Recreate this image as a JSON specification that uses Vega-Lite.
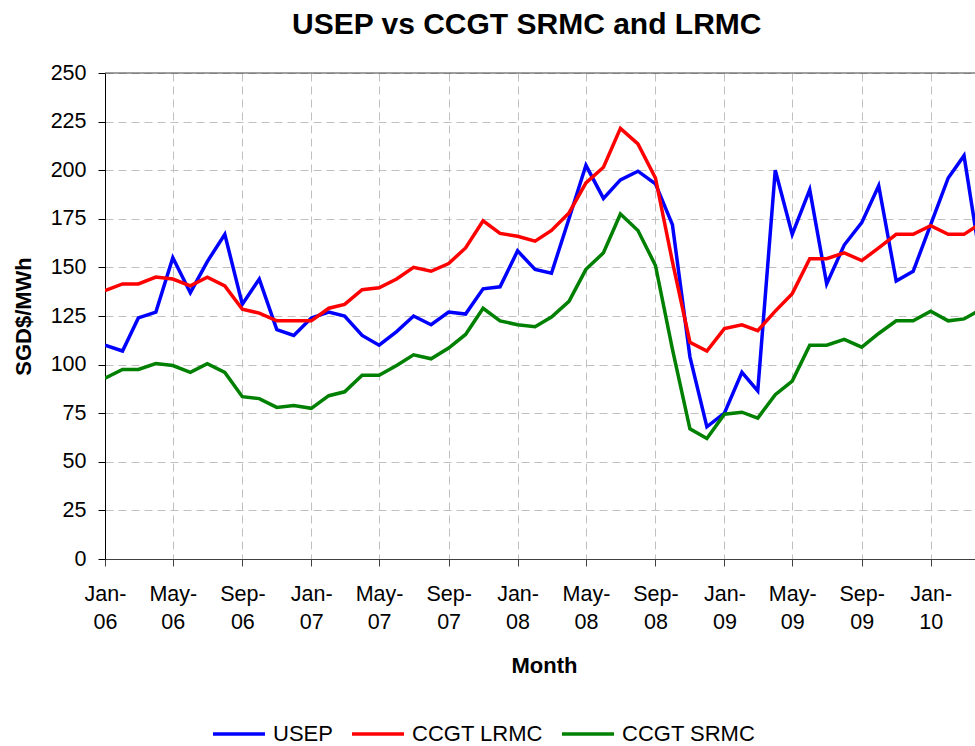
{
  "$schema": "https://vega.github.io/schema/vega-lite/v6.json",
  "width": 870,
  "height": 486,
  "autosize": {"type": "none"},
  "padding": {"left": 105, "top": 73, "right": 0, "bottom": 187},
  "background": "white",
  "config": {"view": {"stroke": null}, "font": "Liberation Sans"},
  "title": {
    "text": "USEP vs CCGT SRMC and LRMC",
    "fontSize": 30,
    "fontWeight": "bold",
    "font": "Liberation Sans",
    "color": "black",
    "anchor": "middle",
    "frame": "bounds",
    "dx": 33,
    "offset": 22
  },
  "layer": [
    {
      "data": {
        "values": [
          {"month": "2006-01-01", "series": "USEP", "value": 110},
          {"month": "2006-02-01", "series": "USEP", "value": 107},
          {"month": "2006-03-01", "series": "USEP", "value": 124},
          {"month": "2006-04-01", "series": "USEP", "value": 127},
          {"month": "2006-05-01", "series": "USEP", "value": 155},
          {"month": "2006-06-01", "series": "USEP", "value": 137},
          {"month": "2006-07-01", "series": "USEP", "value": 153},
          {"month": "2006-08-01", "series": "USEP", "value": 167},
          {"month": "2006-09-01", "series": "USEP", "value": 131},
          {"month": "2006-10-01", "series": "USEP", "value": 144},
          {"month": "2006-11-01", "series": "USEP", "value": 118},
          {"month": "2006-12-01", "series": "USEP", "value": 115},
          {"month": "2007-01-01", "series": "USEP", "value": 124},
          {"month": "2007-02-01", "series": "USEP", "value": 127},
          {"month": "2007-03-01", "series": "USEP", "value": 125},
          {"month": "2007-04-01", "series": "USEP", "value": 115},
          {"month": "2007-05-01", "series": "USEP", "value": 110},
          {"month": "2007-06-01", "series": "USEP", "value": 117},
          {"month": "2007-07-01", "series": "USEP", "value": 125},
          {"month": "2007-08-01", "series": "USEP", "value": 120.5},
          {"month": "2007-09-01", "series": "USEP", "value": 127},
          {"month": "2007-10-01", "series": "USEP", "value": 126},
          {"month": "2007-11-01", "series": "USEP", "value": 139},
          {"month": "2007-12-01", "series": "USEP", "value": 140},
          {"month": "2008-01-01", "series": "USEP", "value": 158.5},
          {"month": "2008-02-01", "series": "USEP", "value": 149},
          {"month": "2008-03-01", "series": "USEP", "value": 147},
          {"month": "2008-04-01", "series": "USEP", "value": 175},
          {"month": "2008-05-01", "series": "USEP", "value": 202.5},
          {"month": "2008-06-01", "series": "USEP", "value": 185.5},
          {"month": "2008-07-01", "series": "USEP", "value": 195},
          {"month": "2008-08-01", "series": "USEP", "value": 199.5},
          {"month": "2008-09-01", "series": "USEP", "value": 193},
          {"month": "2008-10-01", "series": "USEP", "value": 172},
          {"month": "2008-11-01", "series": "USEP", "value": 104},
          {"month": "2008-12-01", "series": "USEP", "value": 68},
          {"month": "2009-01-01", "series": "USEP", "value": 75},
          {"month": "2009-02-01", "series": "USEP", "value": 96},
          {"month": "2009-03-01", "series": "USEP", "value": 86.5},
          {"month": "2009-04-01", "series": "USEP", "value": 200},
          {"month": "2009-05-01", "series": "USEP", "value": 167},
          {"month": "2009-06-01", "series": "USEP", "value": 190},
          {"month": "2009-07-01", "series": "USEP", "value": 141.5},
          {"month": "2009-08-01", "series": "USEP", "value": 161.5},
          {"month": "2009-09-01", "series": "USEP", "value": 173},
          {"month": "2009-10-01", "series": "USEP", "value": 192},
          {"month": "2009-11-01", "series": "USEP", "value": 143},
          {"month": "2009-12-01", "series": "USEP", "value": 148},
          {"month": "2010-01-01", "series": "USEP", "value": 172},
          {"month": "2010-02-01", "series": "USEP", "value": 196},
          {"month": "2010-03-01", "series": "USEP", "value": 207.5},
          {"month": "2010-04-01", "series": "USEP", "value": 150},
          {"month": "2006-01-01", "series": "CCGT LRMC", "value": 138},
          {"month": "2006-02-01", "series": "CCGT LRMC", "value": 141.5},
          {"month": "2006-03-01", "series": "CCGT LRMC", "value": 141.5},
          {"month": "2006-04-01", "series": "CCGT LRMC", "value": 145},
          {"month": "2006-05-01", "series": "CCGT LRMC", "value": 144},
          {"month": "2006-06-01", "series": "CCGT LRMC", "value": 140.5},
          {"month": "2006-07-01", "series": "CCGT LRMC", "value": 145},
          {"month": "2006-08-01", "series": "CCGT LRMC", "value": 140.5},
          {"month": "2006-09-01", "series": "CCGT LRMC", "value": 128.5},
          {"month": "2006-10-01", "series": "CCGT LRMC", "value": 126.5},
          {"month": "2006-11-01", "series": "CCGT LRMC", "value": 122.5},
          {"month": "2006-12-01", "series": "CCGT LRMC", "value": 122.5},
          {"month": "2007-01-01", "series": "CCGT LRMC", "value": 122.5},
          {"month": "2007-02-01", "series": "CCGT LRMC", "value": 129},
          {"month": "2007-03-01", "series": "CCGT LRMC", "value": 131},
          {"month": "2007-04-01", "series": "CCGT LRMC", "value": 138.5},
          {"month": "2007-05-01", "series": "CCGT LRMC", "value": 139.5},
          {"month": "2007-06-01", "series": "CCGT LRMC", "value": 144},
          {"month": "2007-07-01", "series": "CCGT LRMC", "value": 150},
          {"month": "2007-08-01", "series": "CCGT LRMC", "value": 148},
          {"month": "2007-09-01", "series": "CCGT LRMC", "value": 152},
          {"month": "2007-10-01", "series": "CCGT LRMC", "value": 160},
          {"month": "2007-11-01", "series": "CCGT LRMC", "value": 174},
          {"month": "2007-12-01", "series": "CCGT LRMC", "value": 167.5},
          {"month": "2008-01-01", "series": "CCGT LRMC", "value": 166},
          {"month": "2008-02-01", "series": "CCGT LRMC", "value": 163.5},
          {"month": "2008-03-01", "series": "CCGT LRMC", "value": 169},
          {"month": "2008-04-01", "series": "CCGT LRMC", "value": 178},
          {"month": "2008-05-01", "series": "CCGT LRMC", "value": 193.5},
          {"month": "2008-06-01", "series": "CCGT LRMC", "value": 201.5},
          {"month": "2008-07-01", "series": "CCGT LRMC", "value": 221.5},
          {"month": "2008-08-01", "series": "CCGT LRMC", "value": 213.5},
          {"month": "2008-09-01", "series": "CCGT LRMC", "value": 196},
          {"month": "2008-10-01", "series": "CCGT LRMC", "value": 153},
          {"month": "2008-11-01", "series": "CCGT LRMC", "value": 111.5},
          {"month": "2008-12-01", "series": "CCGT LRMC", "value": 107},
          {"month": "2009-01-01", "series": "CCGT LRMC", "value": 118.5},
          {"month": "2009-02-01", "series": "CCGT LRMC", "value": 120.5},
          {"month": "2009-03-01", "series": "CCGT LRMC", "value": 117.5},
          {"month": "2009-04-01", "series": "CCGT LRMC", "value": 127.5},
          {"month": "2009-05-01", "series": "CCGT LRMC", "value": 136.5},
          {"month": "2009-06-01", "series": "CCGT LRMC", "value": 154.5},
          {"month": "2009-07-01", "series": "CCGT LRMC", "value": 154.5},
          {"month": "2009-08-01", "series": "CCGT LRMC", "value": 157.5},
          {"month": "2009-09-01", "series": "CCGT LRMC", "value": 153.5},
          {"month": "2009-10-01", "series": "CCGT LRMC", "value": 160},
          {"month": "2009-11-01", "series": "CCGT LRMC", "value": 167},
          {"month": "2009-12-01", "series": "CCGT LRMC", "value": 167},
          {"month": "2010-01-01", "series": "CCGT LRMC", "value": 171.5},
          {"month": "2010-02-01", "series": "CCGT LRMC", "value": 167},
          {"month": "2010-03-01", "series": "CCGT LRMC", "value": 167},
          {"month": "2010-04-01", "series": "CCGT LRMC", "value": 173},
          {"month": "2006-01-01", "series": "CCGT SRMC", "value": 93},
          {"month": "2006-02-01", "series": "CCGT SRMC", "value": 97.5},
          {"month": "2006-03-01", "series": "CCGT SRMC", "value": 97.5},
          {"month": "2006-04-01", "series": "CCGT SRMC", "value": 100.5},
          {"month": "2006-05-01", "series": "CCGT SRMC", "value": 99.5},
          {"month": "2006-06-01", "series": "CCGT SRMC", "value": 96},
          {"month": "2006-07-01", "series": "CCGT SRMC", "value": 100.5},
          {"month": "2006-08-01", "series": "CCGT SRMC", "value": 96},
          {"month": "2006-09-01", "series": "CCGT SRMC", "value": 83.5},
          {"month": "2006-10-01", "series": "CCGT SRMC", "value": 82.5},
          {"month": "2006-11-01", "series": "CCGT SRMC", "value": 78},
          {"month": "2006-12-01", "series": "CCGT SRMC", "value": 79},
          {"month": "2007-01-01", "series": "CCGT SRMC", "value": 77.5},
          {"month": "2007-02-01", "series": "CCGT SRMC", "value": 84},
          {"month": "2007-03-01", "series": "CCGT SRMC", "value": 86},
          {"month": "2007-04-01", "series": "CCGT SRMC", "value": 94.5},
          {"month": "2007-05-01", "series": "CCGT SRMC", "value": 94.5},
          {"month": "2007-06-01", "series": "CCGT SRMC", "value": 99.5},
          {"month": "2007-07-01", "series": "CCGT SRMC", "value": 105},
          {"month": "2007-08-01", "series": "CCGT SRMC", "value": 103},
          {"month": "2007-09-01", "series": "CCGT SRMC", "value": 108.5},
          {"month": "2007-10-01", "series": "CCGT SRMC", "value": 115.5},
          {"month": "2007-11-01", "series": "CCGT SRMC", "value": 129},
          {"month": "2007-12-01", "series": "CCGT SRMC", "value": 122.5},
          {"month": "2008-01-01", "series": "CCGT SRMC", "value": 120.5},
          {"month": "2008-02-01", "series": "CCGT SRMC", "value": 119.5},
          {"month": "2008-03-01", "series": "CCGT SRMC", "value": 124.5},
          {"month": "2008-04-01", "series": "CCGT SRMC", "value": 132.5},
          {"month": "2008-05-01", "series": "CCGT SRMC", "value": 149},
          {"month": "2008-06-01", "series": "CCGT SRMC", "value": 157.5},
          {"month": "2008-07-01", "series": "CCGT SRMC", "value": 177.5},
          {"month": "2008-08-01", "series": "CCGT SRMC", "value": 169},
          {"month": "2008-09-01", "series": "CCGT SRMC", "value": 151},
          {"month": "2008-10-01", "series": "CCGT SRMC", "value": 108},
          {"month": "2008-11-01", "series": "CCGT SRMC", "value": 67},
          {"month": "2008-12-01", "series": "CCGT SRMC", "value": 62},
          {"month": "2009-01-01", "series": "CCGT SRMC", "value": 74.5},
          {"month": "2009-02-01", "series": "CCGT SRMC", "value": 75.5},
          {"month": "2009-03-01", "series": "CCGT SRMC", "value": 72.5},
          {"month": "2009-04-01", "series": "CCGT SRMC", "value": 84.5},
          {"month": "2009-05-01", "series": "CCGT SRMC", "value": 91.5},
          {"month": "2009-06-01", "series": "CCGT SRMC", "value": 110},
          {"month": "2009-07-01", "series": "CCGT SRMC", "value": 110},
          {"month": "2009-08-01", "series": "CCGT SRMC", "value": 113},
          {"month": "2009-09-01", "series": "CCGT SRMC", "value": 109},
          {"month": "2009-10-01", "series": "CCGT SRMC", "value": 116},
          {"month": "2009-11-01", "series": "CCGT SRMC", "value": 122.5},
          {"month": "2009-12-01", "series": "CCGT SRMC", "value": 122.5},
          {"month": "2010-01-01", "series": "CCGT SRMC", "value": 127.5},
          {"month": "2010-02-01", "series": "CCGT SRMC", "value": 122.5},
          {"month": "2010-03-01", "series": "CCGT SRMC", "value": 123.5},
          {"month": "2010-04-01", "series": "CCGT SRMC", "value": 128.5}
        ]
      },
      "mark": {"type": "line", "strokeWidth": 3.5, "clip": true},
      "encoding": {
        "x": {
          "field": "month",
          "type": "temporal",
          "scale": {
            "type": "utc",
            "nice": false,
            "domain": [
              {"year": 2006, "month": 1, "date": 1, "utc": true},
              {"year": 2010, "month": 3, "date": 20, "hours": 10, "utc": true}
            ]
          },
          "axis": {
            "title": "Month",
            "titleFontSize": 22,
            "titleFontWeight": "bold",
            "titleColor": "black",
            "titleX": 439,
            "titleY": 113,
            "titleAlign": "center",
            "titleBaseline": "alphabetic",
            "tickCount": {"interval": "month", "step": 4},
            "labelExpr": "[utcFormat(datum.value, '%b-'), utcFormat(datum.value, '%y')]",
            "labelFontSize": 21.5,
            "labelColor": "black",
            "labelLineHeight": 28,
            "labelPadding": 17,
            "labelFlush": false,
            "labelOverlap": false,
            "labelBound": false,
            "tickSize": 7,
            "tickColor": "#404040",
            "domainColor": "#404040",
            "grid": true,
            "gridDash": [8, 5],
            "gridColor": "#c0c0c0",
            "gridWidth": 1
          }
        },
        "y": {
          "field": "value",
          "type": "quantitative",
          "scale": {"domain": [0, 250], "nice": false, "zero": false},
          "axis": {
            "title": "SGD$/MWh",
            "titleFontSize": 22,
            "titleFontWeight": "bold",
            "titleColor": "black",
            "titleAngle": -90,
            "titleX": -75,
            "titleY": 243,
            "titleAlign": "center",
            "titleBaseline": "alphabetic",
            "values": [0, 25, 50, 75, 100, 125, 150, 175, 200, 225, 250],
            "labelFontSize": 21.5,
            "labelColor": "black",
            "labelPadding": 12,
            "tickSize": 7,
            "tickColor": "black",
            "domainColor": "black",
            "grid": true,
            "gridDash": [8, 5],
            "gridColor": "#c0c0c0",
            "gridWidth": 1
          }
        },
        "color": {
          "field": "series",
          "type": "nominal",
          "sort": null,
          "scale": {
            "domain": ["USEP", "CCGT LRMC", "CCGT SRMC"],
            "range": ["#0000ff", "#ff0000", "#008000"]
          },
          "legend": {
            "title": null,
            "orient": "none",
            "legendX": 106,
            "legendY": 633,
            "direction": "horizontal",
            "symbolType": "stroke",
            "symbolSize": 2704,
            "symbolStrokeWidth": 3.5,
            "labelFontSize": 22,
            "labelColor": "black",
            "labelOffset": 6,
            "columnPadding": 12,
            "padding": 0
          }
        }
      }
    },
    {
      "data": {"values": [{}]},
      "mark": {"type": "rule", "color": "#404040", "strokeWidth": 1},
      "encoding": {"y": {"datum": 250, "type": "quantitative"}}
    }
  ]
}
